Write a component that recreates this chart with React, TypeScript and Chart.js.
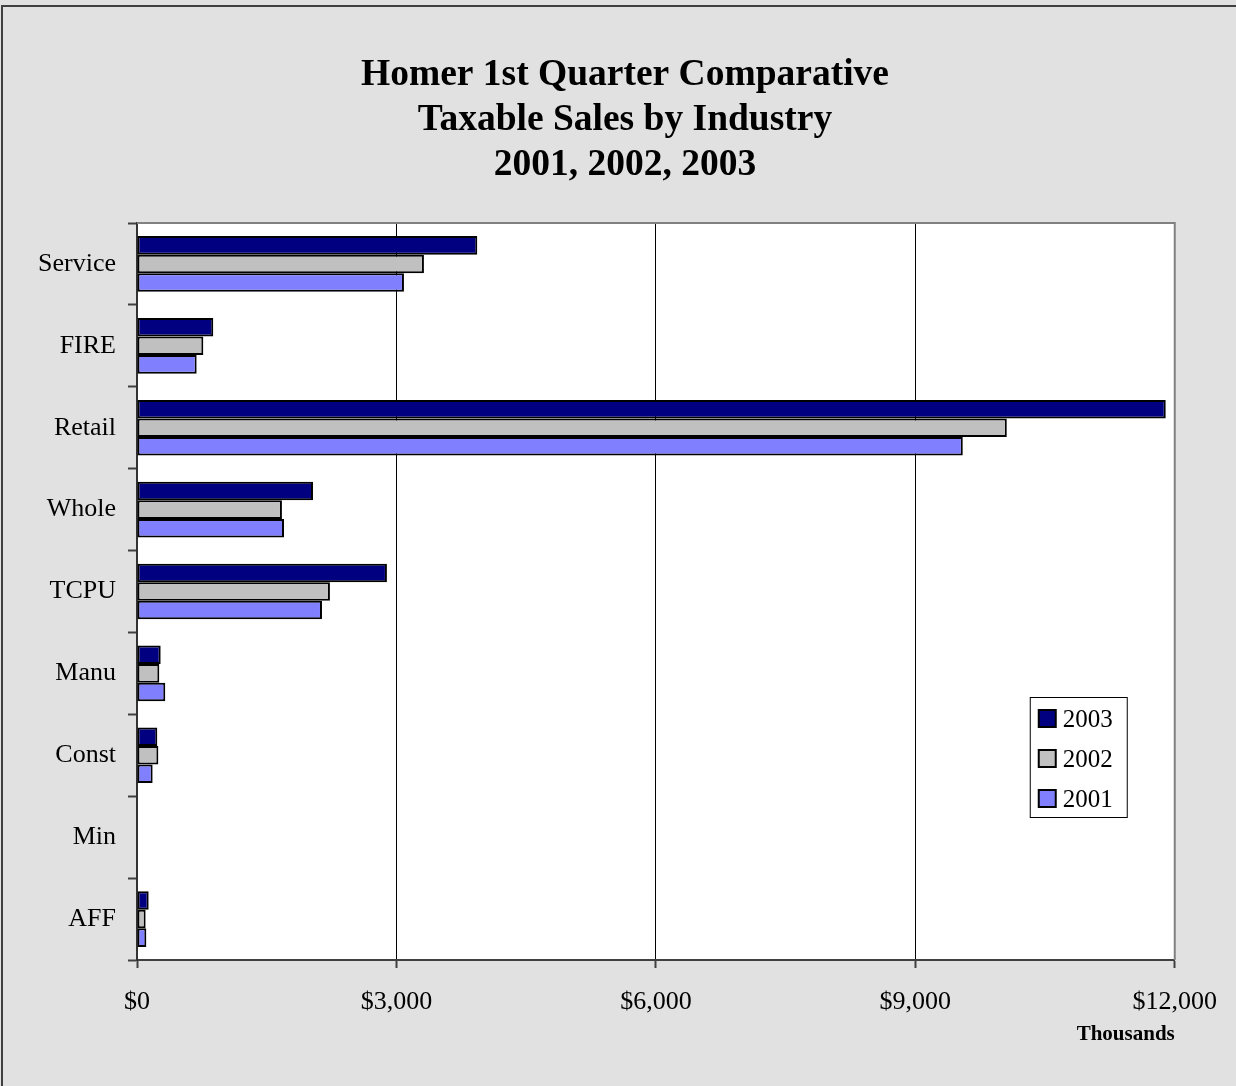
import React, { useEffect, useRef } from "react";
import { Chart, registerables } from "chart.js";

Chart.register(...registerables);

const categories = ["Service", "FIRE", "Retail", "Whole", "TCPU", "Manu", "Const", "Min", "AFF"];
const sales2003 = [3935, 882, 11896, 2035, 2890, 274, 235, 0, 135];
const sales2002 = [3318, 767, 10058, 1676, 2231, 258, 247, 0, 100];
const sales2001 = [3087, 690, 9549, 1700, 2139, 327, 181, 0, 108];
const seriesLabels = ["2003", "2002", "2001"];
const seriesColors = ["#000080", "#c0c0c0", "#8080ff"];
const titleLines = ["Homer 1st Quarter Comparative", "Taxable Sales by Industry", "2001, 2002, 2003"];
const xAxisTitle = "Thousands";

const FONT = "'Liberation Serif', 'Times New Roman', serif";

const framePlugin = {
  id: "frame",
  beforeDraw(chart: any) {
    const { ctx, chartArea, width, height } = chart;
    ctx.save();
    ctx.fillStyle = "#e1e1e1";
    ctx.fillRect(0, 0, width, height);
    ctx.strokeStyle = "#404040";
    ctx.lineWidth = 2;
    ctx.beginPath();
    ctx.moveTo(2, height);
    ctx.lineTo(2, 6);
    ctx.lineTo(width, 6);
    ctx.stroke();
    ctx.fillStyle = "#ffffff";
    ctx.fillRect(chartArea.left, chartArea.top, chartArea.right - chartArea.left, chartArea.bottom - chartArea.top);
    ctx.restore();
  },
  afterDraw(chart: any) {
    const { ctx, chartArea } = chart;
    ctx.save();
    ctx.strokeStyle = "#808080";
    ctx.lineWidth = 2;
    ctx.beginPath();
    ctx.moveTo(chartArea.left, chartArea.top);
    ctx.lineTo(chartArea.right, chartArea.top);
    ctx.lineTo(chartArea.right, chartArea.bottom);
    ctx.stroke();
    const bw = 97, bh = 120;
    const bx = chartArea.right - 145;
    const by = chartArea.bottom - 263;
    ctx.fillStyle = "#ffffff";
    ctx.fillRect(bx, by, bw, bh);
    ctx.strokeStyle = "#000000";
    ctx.lineWidth = 1;
    ctx.strokeRect(bx + 0.5, by + 0.5, bw, bh);
    ctx.font = `25px ${FONT}`;
    ctx.textBaseline = "middle";
    ctx.textAlign = "left";
    chart.data.datasets.forEach((ds: any, i: number) => {
      const cy = by + 22 + i * 40;
      ctx.fillStyle = ds.backgroundColor;
      ctx.fillRect(bx + 9, cy - 9, 17, 17);
      ctx.strokeStyle = "#000";
      ctx.lineWidth = 2;
      ctx.strokeRect(bx + 9, cy - 9, 17, 17);
      ctx.fillStyle = "#000";
      ctx.fillText(ds.label, bx + 33, cy + 1);
    });
    ctx.restore();
  },
};

export default function App() {
  const ref = useRef<HTMLCanvasElement | null>(null);
  useEffect(() => {
    if (!ref.current) return;
    const data = [sales2003, sales2002, sales2001];
    const chart = new Chart(ref.current, {
      type: "bar",
      data: {
        labels: categories,
        datasets: seriesLabels.map((l, i) => ({
          label: l,
          data: data[i],
          backgroundColor: seriesColors[i],
          borderColor: "#000000",
          borderWidth: 2,
          borderSkipped: false,
          categoryPercentage: 0.68,
          barPercentage: 1.0,
        })),
      },
      options: {
        indexAxis: "y",
        animation: false,
        responsive: false,
        events: [],
        layout: { padding: { top: 0, right: 0, bottom: 0, left: 14 } },
        plugins: {
          legend: { display: false },
          tooltip: { enabled: false },
          title: {
            display: true,
            text: titleLines,
            color: "#000",
            font: { family: FONT, size: 37.5, weight: "bold", lineHeight: 1.2 },
            padding: { top: 53, bottom: 35 },
          },
        },
        scales: {
          x: {
            min: 0,
            max: 12000,
            ticks: {
              stepSize: 3000,
              color: "#000",
              font: { family: FONT, size: 26 },
              padding: 19,
              callback: (v: any) => "$" + Number(v).toLocaleString("en-US"),
            },
            grid: { color: "#000", lineWidth: 1, tickLength: 8, tickColor: "#404040", tickWidth: 2 },
            border: { color: "#404040", width: 2 },
            title: {
              display: true,
              text: xAxisTitle,
              align: "end",
              color: "#000",
              font: { family: FONT, size: 21, weight: "bold", lineHeight: 1.2 },
              padding: { top: 0, bottom: 39 },
            },
            afterFit: (s: any) => { s.height = 126; },
          },
          y: {
            ticks: { color: "#000", font: { family: FONT, size: 26 }, padding: 12 },
            grid: { drawOnChartArea: false, tickLength: 9, tickColor: "#404040", tickWidth: 2, offset: true },
            border: { color: "#333", width: 2 },
            afterFit: (s: any) => { s.width = 123; },
          },
          yRightSpace: {
            type: "linear",
            position: "right",
            display: true,
            ticks: { display: false },
            grid: { display: false },
            border: { display: false },
            afterFit: (s: any) => { s.width = 61; },
          },
        },
      },
      plugins: [framePlugin],
    } as any);
    return () => chart.destroy();
  }, []);
  return (
    <div style={{ position: "absolute", left: 0, top: 0, width: 1236, height: 1086 }}>
      <canvas ref={ref} width={1236} height={1086} style={{ display: "block" }} />
    </div>
  );
}
